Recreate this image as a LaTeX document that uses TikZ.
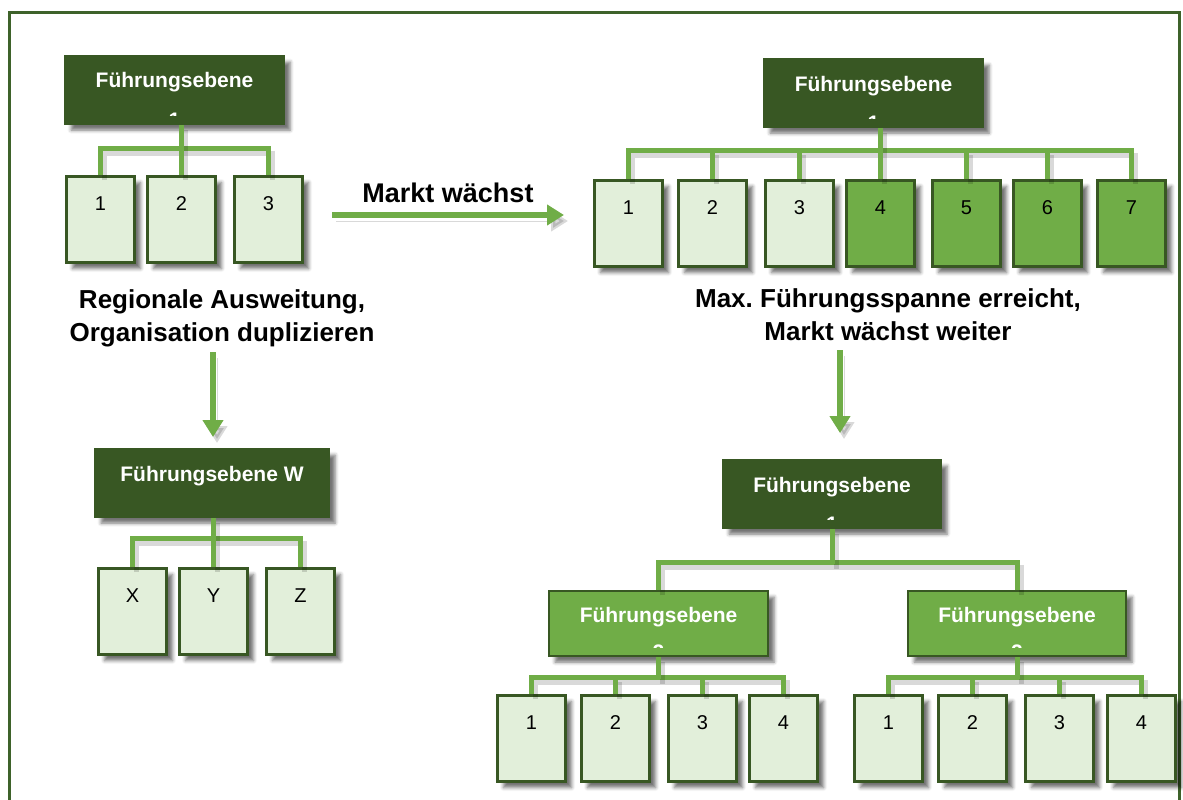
\documentclass[tikz,border=0pt]{standalone}
\usepackage{fontspec}
\setmainfont{Liberation Sans}
\frenchspacing
\usetikzlibrary{shadows.blur,arrows.meta,calc}
\definecolor{dkgreen}{RGB}{56,87,35}
\definecolor{midgreen}{RGB}{112,173,71}
\definecolor{ltgreen}{RGB}{226,239,218}
\definecolor{framegreen}{RGB}{62,98,42}

% second text line of a box, cut off by the box's text area
\newcommand{\peektext}[2]{%
  \begin{scope}
    \clip ([xshift=2pt,yshift=10pt]#1.south west) rectangle ([xshift=-2pt,yshift=-2pt]#1.north east);
    \node[anchor=base, text=white, font=\fontsize{21}{25}\selectfont\bfseries, inner sep=0pt] at ([yshift=-2pt]#1.south) {#2};
  \end{scope}}

\begin{document}
\begin{tikzpicture}[x=1pt,y=-1pt,
  boxshadow/.style={blur shadow={shadow xshift=6pt, shadow yshift=-6pt, shadow blur radius=3.5pt, shadow opacity=55}},
  mgr/.style={draw=dkgreen, fill=dkgreen, line width=2pt, boxshadow, anchor=north west,
    minimum width=219pt, inner xsep=0pt, inner ysep=0pt, text height=32pt, text depth=36pt,
    text=white, font=\fontsize{21}{25}\selectfont\bfseries},
  submgr/.style={mgr, fill=midgreen, text height=31pt, text depth=34pt},
  unit/.style={draw=dkgreen, fill=ltgreen, line width=3pt, boxshadow, anchor=north west,
    minimum width=68pt, inner xsep=0pt, inner ysep=0pt, text height=34pt, text depth=52pt,
    font=\fontsize{20}{24}\selectfont},
  unitdark/.style={unit, fill=midgreen},
  conn/.style={draw=midgreen, line width=5pt,
    preaction={draw=black, opacity=0.15, line width=5pt, transform canvas={xshift=4pt, yshift=-5pt}}},
  bigarrow/.style={draw=midgreen, line width=5.5pt, -{Triangle[length=17pt, width=20pt]},
    preaction={draw=black, opacity=0.15, transform canvas={xshift=4pt, yshift=-6pt}}},
  lbl/.style={font=\fontsize{26}{33}\selectfont\bfseries, align=center}
]
\useasboundingbox (0,0) rectangle (1183,800);
\begin{scope}
\clip (0,0) rectangle (1183,800);
\draw[framegreen, line width=3pt] (9.5,12.5) rectangle (1179.5,830);
\end{scope}

% --- small organisation
\node[mgr] (m1) at (64,55) {Führungsebene};
\peektext{m1}{1}
\node[unit] (a1) at (65,175) {1};
\node[unit] (a2) at (146,175) {2};
\node[unit] (a3) at (233,175) {3};
\draw[conn] (a1.north) -- ++(0,-27) -| (a3.north);
\draw[conn] (m1.south -| a2.north) -- (a2.north);

% --- grown organisation
\node[mgr] (m2) at (763,58) {Führungsebene};
\peektext{m2}{1}
\node[unit] (b1) at (593,179) {1};
\node[unit] (b2) at (677,179) {2};
\node[unit] (b3) at (764,179) {3};
\node[unitdark] (b4) at (845,179) {4};
\node[unitdark] (b5) at (931,179) {5};
\node[unitdark] (b6) at (1012,179) {6};
\node[unitdark] (b7) at (1096,179) {7};
\draw[conn] (b1.north) -- ++(0,-29) -| (b7.north);
\foreach \i in {2,3,5,6} \draw[conn] (b\i.north) -- ++(0,-29);
\draw[conn] (m2.south -| b4.north) -- (b4.north);

% --- duplicated organisation
\node[mgr, minimum width=234pt] (m3) at (94,448) {Führungsebene W};
\node[unit] (x1) at (97,567) {X};
\node[unit] (x2) at (178,567) {Y};
\node[unit] (x3) at (265,567) {Z};
\draw[conn] (x1.north) -- ++(0,-29) -| (x3.north);
\draw[conn] (m3.south -| x2.north) -- (x2.north);

% --- organisation with an extra management level
\node[mgr, minimum width=218pt] (m4) at (722,459) {Führungsebene};
\peektext{m4}{1}
\node[submgr] (s1) at (548,590) {Führungsebene};
\peektext{s1}{2}
\node[submgr, minimum width=218pt] (s2) at (907,590) {Führungsebene};
\peektext{s2}{2}
\draw[conn] (s1.north) -- ++(0,-28) -| (s2.north);
\draw[conn] (m4.south) -- ++(0,35);

\node[unit] (c1) at (496,694) {1};
\node[unit] (c2) at (580,694) {2};
\node[unit] (c3) at (667,694) {3};
\node[unit] (c4) at (748,694) {4};
\draw[conn] (c1.north) -- ++(0,-17) -| (c4.north);
\foreach \i in {2,3} \draw[conn] (c\i.north) -- ++(0,-17);
\draw[conn] (s1.south) -- ++(0,22);

\node[unit] (d1) at (853,694) {1};
\node[unit] (d2) at (937,694) {2};
\node[unit] (d3) at (1024,694) {3};
\node[unit] (d4) at (1106,694) {4};
\draw[conn] (d1.north) -- ++(0,-17) -| (d4.north);
\foreach \i in {2,3} \draw[conn] (d\i.north) -- ++(0,-17);
\draw[conn] (s2.south) -- ++(0,22);

% --- captions and transition arrows
\node[lbl] (t1) at (222,318) {Regionale Ausweitung,\\Organisation duplizieren};
\node[lbl] (t2) at (888,315) {Max. Führungsspanne erreicht,\\Markt wächst weiter};
\node[font=\fontsize{27}{32}\selectfont\bfseries, anchor=base] (t3) at (448,202) {Markt wächst};

\coordinate (h0) at (332,215);
\coordinate (h1) at (564,215);
\draw[bigarrow] (h0) -- (h1);
\coordinate (v0) at (213,352);
\coordinate (v1) at (213,437);
\draw[bigarrow] (v0) -- (v1);
\coordinate (w0) at (840,350);
\coordinate (w1) at (840,433);
\draw[bigarrow] (w0) -- (w1);
\end{tikzpicture}
\end{document}
